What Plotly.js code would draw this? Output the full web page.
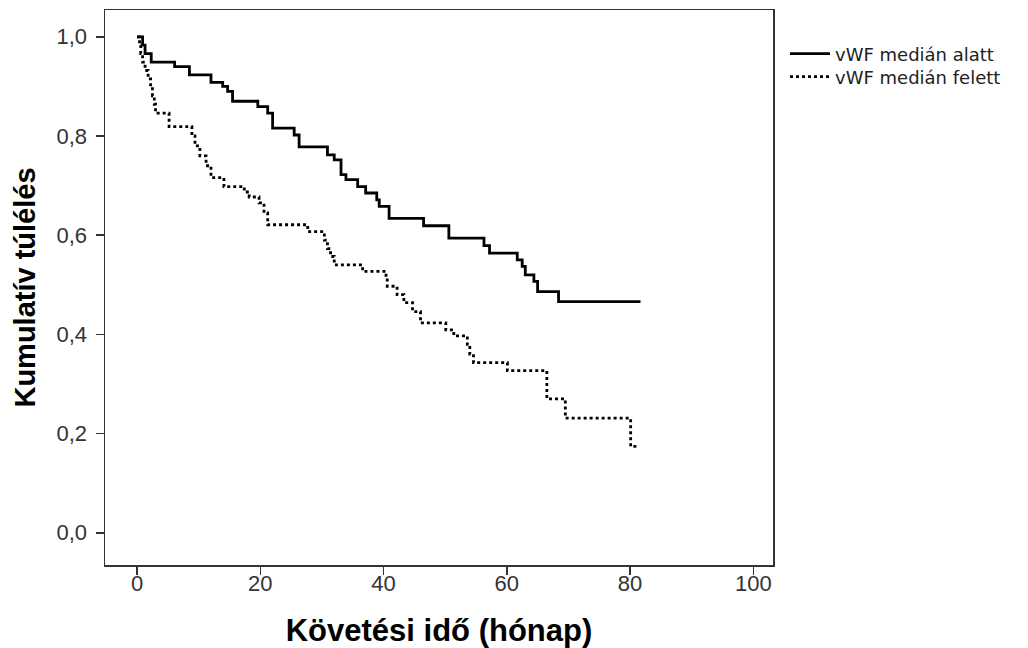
<!DOCTYPE html>
<html>
<head>
<meta charset="utf-8">
<script src="https://cdn.plot.ly/plotly-3.0.1.min.js"></script>
<style>html,body{margin:0;padding:0;background:#fff}#chart{width:1028px;height:648px}</style>
</head>
<body>
<div id="chart"></div>
<script>
// Kaplan-Meier steps: vWF below median
var belowTime = [0, 0.9, 1.3, 2.3, 6.1, 8.5, 12.0, 13.9, 14.7, 15.5, 19.6, 21.2, 22.0, 25.5, 26.3, 30.9, 32.0, 33.1, 33.9, 35.8, 37.1, 38.9, 39.3, 40.9, 46.5, 50.6, 56.3, 57.2, 61.7, 62.5, 63.0, 64.4, 65.0, 68.4, 81.7];
var belowSurv = [1.0, 0.983, 0.966, 0.949, 0.940, 0.923, 0.908, 0.900, 0.890, 0.870, 0.859, 0.846, 0.816, 0.802, 0.778, 0.762, 0.752, 0.722, 0.712, 0.698, 0.685, 0.671, 0.658, 0.634, 0.619, 0.594, 0.579, 0.564, 0.550, 0.537, 0.520, 0.507, 0.486, 0.466, 0.466];
// vWF above median
var aboveTime = [0, 0.4, 0.6, 0.9, 1.3, 1.8, 2.2, 2.5, 2.8, 3.0, 5.2, 8.9, 9.4, 10.2, 11.2, 12.0, 14.1, 17.4, 18.2, 19.8, 20.6, 21.2, 27.7, 30.4, 30.9, 31.4, 32.0, 36.6, 40.4, 40.6, 42.2, 43.3, 44.7, 46.0, 50.1, 51.4, 53.6, 54.0, 54.6, 60.1, 66.5, 69.5, 80.1, 81.2];
var aboveSurv = [1.0, 0.983, 0.966, 0.949, 0.932, 0.915, 0.898, 0.881, 0.864, 0.846, 0.819, 0.800, 0.780, 0.760, 0.740, 0.716, 0.698, 0.687, 0.677, 0.665, 0.645, 0.621, 0.607, 0.590, 0.573, 0.557, 0.540, 0.527, 0.513, 0.497, 0.480, 0.464, 0.446, 0.423, 0.409, 0.397, 0.380, 0.360, 0.343, 0.327, 0.270, 0.231, 0.174, 0.174];
var seriesNames = ['vWF medián alatt', 'vWF medián felett'];
var xTicks = [0, 20, 40, 60, 80, 100];
var yTicks = [0, 0.2, 0.4, 0.6, 0.8, 1.0];

var traces = [
  {x: belowTime, y: belowSurv, name: seriesNames[0], legend: 'legend', mode: 'lines', line: {shape: 'hv', color: '#000', width: 2.8}},
  {x: aboveTime, y: aboveSurv, name: seriesNames[1], legend: 'legend2', mode: 'lines', line: {shape: 'hv', color: '#000', width: 2.8, dash: '3px,3px'}}
];
var legFont = {family: 'DejaVu Sans, sans-serif', size: 18, color: '#222'};
var axisFont = {family: 'Liberation Sans, Arial, sans-serif', size: 22, color: '#333'};
var titleFontX = {family: 'Liberation Sans, Arial, sans-serif', size: 31, color: '#000', weight: 'bold'};
var titleFontY = {family: 'Liberation Sans, Arial, sans-serif', size: 29, color: '#000', weight: 'bold'};
var layout = {
  width: 1028, height: 648,
  margin: {l: 105, r: 255, t: 10, b: 83},
  paper_bgcolor: '#fff', plot_bgcolor: '#fff',
  separators: ',.',
  showlegend: true,
  legend: {x: 1.018, y: 0.9207, xanchor: 'left', yanchor: 'middle', bgcolor: 'rgba(0,0,0,0)',
           font: legFont, itemwidth: 40},
  legend2: {x: 1.018, y: 0.8793, xanchor: 'left', yanchor: 'middle', bgcolor: 'rgba(0,0,0,0)',
           font: legFont, itemwidth: 40},
  xaxis: {range: [-5.2, 103.2], tickvals: xTicks, ticks: 'outside', ticklen: 8, tickwidth: 1.5,
          tickcolor: '#333', showline: true, linecolor: '#333', linewidth: 1.5, mirror: true,
          showgrid: false, zeroline: false, tickfont: axisFont, ticklabelstandoff: -10,
          title: {text: 'Követési idő (hónap)', standoff: 26, font: titleFontX}},
  yaxis: {range: [-0.065, 1.054], tickvals: yTicks, tickformat: '.1f', ticks: 'outside', ticklen: 8, tickwidth: 1.5,
          tickcolor: '#333', showline: true, linecolor: '#333', linewidth: 1.5, mirror: true,
          showgrid: false, zeroline: false, tickfont: axisFont, ticklabelstandoff: 4,
          title: {text: 'Kumulatív túlélés', standoff: 12, font: titleFontY}}
};
Plotly.newPlot('chart', traces, layout, {displayModeBar: false, staticPlot: true});
</script>
</body>
</html>
